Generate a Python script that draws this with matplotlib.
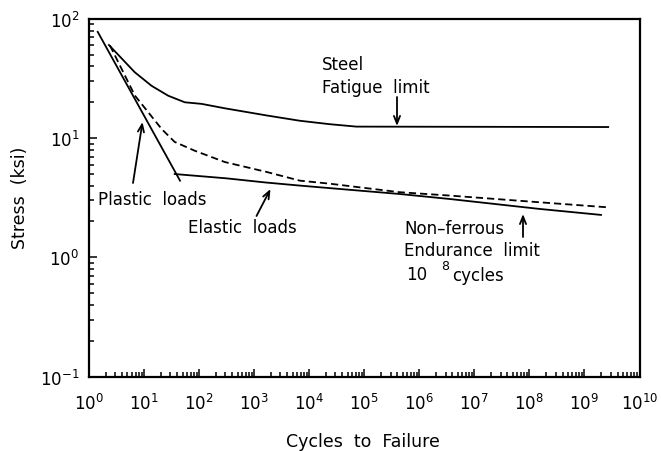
import matplotlib
matplotlib.use('Agg')
import matplotlib.pyplot as plt
from matplotlib.ticker import FixedLocator, NullFormatter

# ---- data ----
steel_N = [2.3, 6.8, 13.7, 27.5, 55, 111, 295, 1700, 6760, 23600, 72000, 2.7e9]
steel_S = [60.5, 35.7, 27.5, 22.7, 20.0, 19.4, 17.8, 15.5, 14.0, 13.1, 12.5, 12.4]

nonferrous_N = [2.4, 6.8, 21, 36, 83, 295, 1700, 6760, 23600, 4.4e5, 3.5e6, 1.5e8, 2.6e9]
nonferrous_S = [60, 22.8, 11.9, 9.3, 7.85, 6.3, 5.2, 4.4, 4.15, 3.52, 3.3, 2.9, 2.63]

plastic_N = [1.44, 45]
plastic_S = [78, 4.4]

elastic_N = [36, 316, 1585, 6760, 25000, 4.4e5, 3.5e6, 1.5e8, 2.0e9]
elastic_S = [5.0, 4.6, 4.25, 4.0, 3.8, 3.4, 3.09, 2.55, 2.27]

x_exponents = list(range(0, 11))
y_exponents = [-1, 0, 1, 2]

# ---- figure ----
plt.rcParams['font.family'] = ['DejaVu Sans']
plt.rcParams['mathtext.fontset'] = 'dejavusans'

W, H = 661, 452
fig = plt.figure(figsize=(W / 100, H / 100), dpi=100)
ax = fig.add_axes([89 / W, 1 - 377.5 / H, (639.5 - 89) / W, (377.5 - 20) / H])

lw = 1.3
ax.plot(steel_N, steel_S, color='black', lw=lw)
ax.plot(nonferrous_N, nonferrous_S, color='black', lw=lw, ls=(0, (4.0, 2.2)))
ax.plot(plastic_N, plastic_S, color='black', lw=lw)
ax.plot(elastic_N, elastic_S, color='black', lw=lw)

ax.set_xscale('log')
ax.set_yscale('log')
ax.set_xlim(10 ** x_exponents[0], 10 ** x_exponents[-1])
ax.set_ylim(10 ** y_exponents[0], 10 ** y_exponents[-1])

ax.xaxis.set_major_locator(FixedLocator([10.0 ** e for e in x_exponents]))
ax.set_xticklabels([r'$\mathregular{10^{%d}}$' % e for e in x_exponents])
ax.yaxis.set_major_locator(FixedLocator([10.0 ** e for e in y_exponents]))
ax.set_yticklabels([r'$\mathregular{10^{%d}}$' % e for e in y_exponents])

xminor = [m * 10.0 ** e for e in x_exponents[:-1] for m in range(2, 10)]
yminor = [m * 10.0 ** e for e in y_exponents[:-1] for m in range(2, 10)]
ax.xaxis.set_minor_locator(FixedLocator(xminor))
ax.yaxis.set_minor_locator(FixedLocator(yminor))
ax.xaxis.set_minor_formatter(NullFormatter())
ax.yaxis.set_minor_formatter(NullFormatter())

ax.tick_params(which='both', direction='in', top=False, right=False,
               labelsize=12, width=1.1)
ax.tick_params(which='major', length=6)
ax.tick_params(which='minor', length=3.5)
ax.tick_params(axis='x', which='major', pad=12)
ax.tick_params(axis='y', which='major', pad=7)

for sp in ax.spines.values():
    sp.set_linewidth(1.6)

# axis titles
fig.text(363 / W, 1 - 441.7 / H, 'Cycles  to  Failure', ha='center', va='center', fontsize=12.5)
fig.text(20 / W, 1 - 198 / H, 'Stress  (ksi)', ha='center', va='center', rotation=90, fontsize=12.5)


def fp(x, y):
    return (x / W, 1 - y / H)


fs = 12
texts = [
    (322, 65, 'Steel'),
    (322, 88, 'Fatigue  limit'),
    (98, 200, 'Plastic  loads'),
    (188, 228, 'Elastic  loads'),
    (404, 229, 'Non\u2013ferrous'),
    (404, 251, 'Endurance  limit'),
    (406, 275, '10'),
    (452, 276, 'cycles'),
]
for x, y, s in texts:
    fig.text(*fp(x, y), s, ha='left', va='center', fontsize=fs)
fig.text(*fp(441, 267), '8', ha='left', va='center', fontsize=9)

arrows = [
    ((397, 98), (397, 127)),
    ((133, 184), (142.5, 123)),
    ((256.5, 217), (270.5, 190)),
    ((523, 238), (523, 215)),
]
for (x0, y0), (x1, y1) in arrows:
    ax.annotate('', xy=fp(x1, y1), xycoords='figure fraction',
                xytext=fp(x0, y0), textcoords='figure fraction',
                arrowprops=dict(arrowstyle='->,head_length=0.55,head_width=0.22',
                                lw=1.3, color='black', shrinkA=0, shrinkB=0))

fig.savefig('out.png', dpi=100)
